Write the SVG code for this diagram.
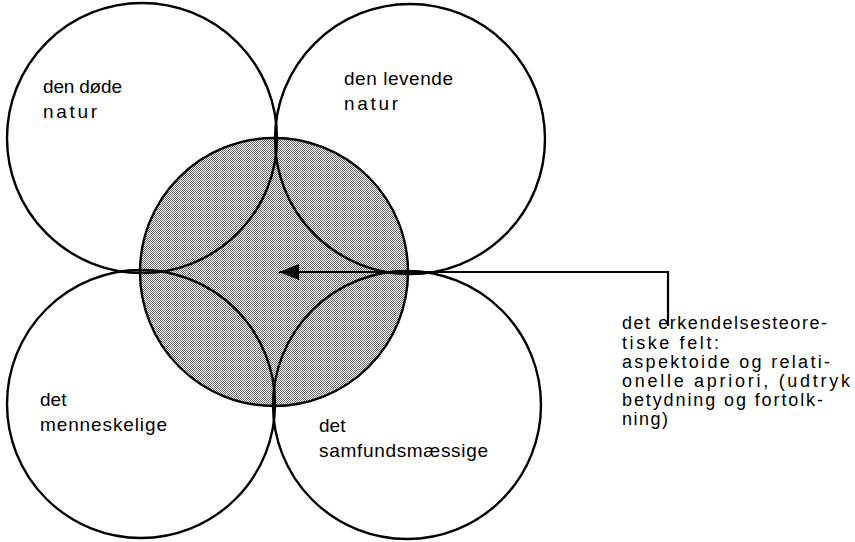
<svg xmlns="http://www.w3.org/2000/svg" width="855" height="542" viewBox="0 0 855 542">
<style>
.c{fill:none;stroke:#000;stroke-width:2.4}
.t{font-family:"Liberation Sans",Arial,sans-serif;font-size:19px;fill:#000}
.r{font-family:"Liberation Sans",Arial,sans-serif;font-size:18px;fill:#000}
.l{fill:none;stroke:#000;stroke-width:2.2}
</style>
<defs>
<pattern id="dots" width="2" height="2" patternUnits="userSpaceOnUse">
<rect width="2" height="2" fill="#fff"/>
<rect width="1" height="1" fill="#6a6a6a"/>
<rect x="1" y="1" width="1" height="1" fill="#6a6a6a"/>
</pattern>
<marker id="ah" markerWidth="20" markerHeight="16" refX="20" refY="8" orient="auto" markerUnits="userSpaceOnUse">
<path d="M0,0 L20,8 L0,16 Z" fill="#000"/>
</marker>
</defs>
<rect width="855" height="542" fill="#fff"/>
<g id="center">
<circle cx="274" cy="272" r="134" fill="url(#dots)" stroke="#000" stroke-width="2.4"/>
</g>
<g id="dead-nature">
<circle class="c" cx="142" cy="138" r="135"/>
<text class="t" x="43" y="93" textLength="79" lengthAdjust="spacing">den døde</text>
<text class="t" x="43" y="118" textLength="54" lengthAdjust="spacing">natur</text>
</g>
<g id="living-nature">
<circle class="c" cx="410" cy="139" r="135"/>
<text class="t" x="344" y="85" textLength="109" lengthAdjust="spacing">den levende</text>
<text class="t" x="344" y="110" textLength="54" lengthAdjust="spacing">natur</text>
</g>
<g id="human">
<circle class="c" cx="141" cy="404" r="134"/>
<text class="t" x="40" y="406">det</text>
<text class="t" x="40" y="431" textLength="127" lengthAdjust="spacing">menneskelige</text>
</g>
<g id="social">
<circle class="c" cx="407" cy="405" r="134"/>
<text class="t" x="319" y="432">det</text>
<text class="t" x="319" y="457" textLength="169" lengthAdjust="spacing">samfundsmæssige</text>
</g>
<g id="connectors">
<path class="l" d="M668,326 V272 H279" marker-end="url(#ah)"/>
</g>
<g id="epistemic-label">
<text class="r" x="622" y="329" textLength="205" lengthAdjust="spacing">det erkendelsesteore-</text>
<text class="r" x="622" y="349" textLength="97" lengthAdjust="spacing">tiske felt:</text>
<text class="r" x="622" y="368" textLength="208" lengthAdjust="spacing">aspektoide og relati-</text>
<text class="r" x="622" y="387" textLength="228" lengthAdjust="spacing">onelle apriori, (udtryk</text>
<text class="r" x="622" y="406" textLength="201" lengthAdjust="spacing">betydning og fortolk-</text>
<text class="r" x="622" y="425" textLength="46" lengthAdjust="spacing">ning)</text>
</g>
</svg>
